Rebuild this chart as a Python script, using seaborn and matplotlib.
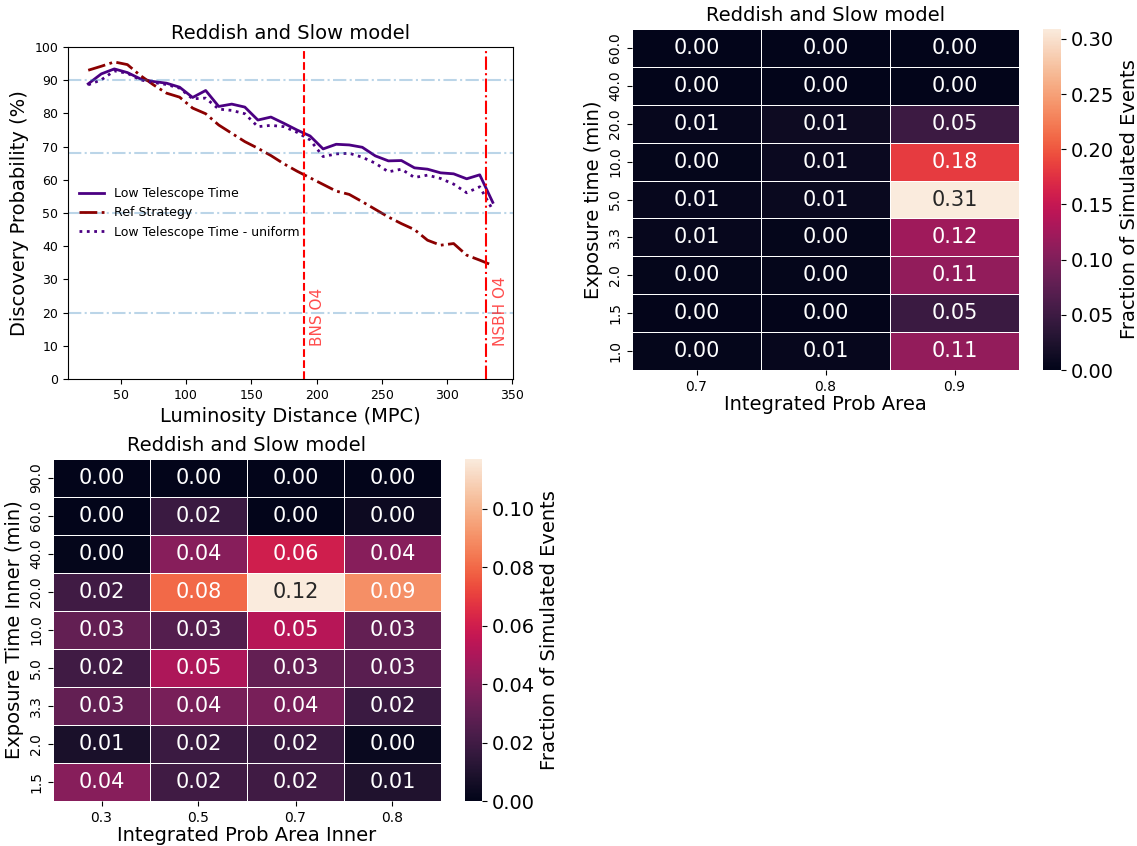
import numpy as np
import pandas as pd
import matplotlib
matplotlib.use("Agg")
import matplotlib.pyplot as plt
import seaborn as sns

# ---- discovery probability vs luminosity distance ----
distance = [25, 35, 45, 55, 65, 75, 85, 95, 105, 115, 125, 135, 145, 155, 165, 175,
            185, 195, 205, 215, 225, 235, 245, 255, 265, 275, 285, 295, 305, 315, 325, 335]
low_tel_time = [88.9, 91.9, 93.4, 92.3, 90.4, 89.6, 89.1, 87.9, 84.8, 86.9, 82.1, 82.8,
                81.9, 78.0, 78.9, 77.0, 75.0, 73.2, 69.3, 70.7, 70.5, 69.8, 67.2, 65.7,
                65.8, 63.6, 63.2, 62.1, 61.8, 60.3, 61.5, 53.2]
ref_strategy = [93.0, 94.2, 95.5, 94.7, 91.4, 88.6, 86.1, 84.9, 81.6, 79.9, 76.5, 74.0,
                71.5, 69.5, 67.3, 64.8, 62.6, 60.6, 58.6, 56.6, 55.6, 53.4, 51.1, 48.8,
                46.8, 45.0, 41.8, 40.3, 40.8, 37.3, 35.8, 34.2]
low_tel_uniform = [88.6, 90.1, 92.8, 92.1, 90.1, 89.3, 88.7, 87.6, 84.4, 84.6, 81.3, 80.9,
                   79.9, 76.0, 76.4, 76.0, 74.3, 72.0, 67.0, 67.8, 68.0, 66.8, 65.0, 62.4,
                   63.2, 60.7, 61.4, 60.4, 58.7, 56.1, 57.9, 50.9]
ref_levels = [90, 68, 50, 20]
horizon_names = ["BNS O4", "NSBH O4"]
horizon_dist = [190, 330]
horizon_styles = ["--", "-."]

# ---- heatmap: exposure time vs integrated probability area ----
prob_area = ["0.7", "0.8", "0.9"]
exp_time = ["60.0", "40.0", "20.0", "10.0", "5.0", "3.3", "2.0", "1.5", "1.0"]
frac_main = [
    [0.000, 0.000, 0.000],
    [0.000, 0.000, 0.000],
    [0.006, 0.011, 0.049],
    [0.003, 0.009, 0.183],
    [0.006, 0.008, 0.309],
    [0.006, 0.003, 0.122],
    [0.003, 0.003, 0.113],
    [0.002, 0.002, 0.048],
    [0.003, 0.006, 0.114],
]

# ---- heatmap: inner exposure time vs inner probability area ----
prob_area_inner = ["0.3", "0.5", "0.7", "0.8"]
exp_time_inner = ["90.0", "60.0", "40.0", "20.0", "10.0", "5.0", "3.3", "2.0", "1.5"]
frac_inner = [
    [0.000, 0.000, 0.000, 0.000],
    [0.000, 0.018, 0.000, 0.004],
    [0.001, 0.040, 0.060, 0.040],
    [0.020, 0.080, 0.117, 0.090],
    [0.030, 0.026, 0.053, 0.030],
    [0.020, 0.050, 0.030, 0.027],
    [0.030, 0.036, 0.036, 0.018],
    [0.008, 0.018, 0.018, 0.003],
    [0.040, 0.020, 0.020, 0.010],
]

plt.rcParams["font.family"] = ["DejaVu Sans"]

W, H = 1137, 846
fig = plt.figure(figsize=(W / 100, H / 100), dpi=100)


def px_axes(x0, y0, x1, y1):
    return fig.add_axes([x0 / W, 1 - y1 / H, (x1 - x0) / W, (y1 - y0) / H])


# ---------------- line plot ----------------
ax = px_axes(68, 47, 513, 379)
df = pd.DataFrame({
    "dist": distance * 3,
    "prob": low_tel_time + ref_strategy + low_tel_uniform,
    "strategy": (["Low Telescope Time"] * len(distance)
                 + ["Ref Strategy"] * len(distance)
                 + ["Low Telescope Time - uniform"] * len(distance)),
})
line_colors = {"Low Telescope Time": "indigo",
               "Ref Strategy": "darkred",
               "Low Telescope Time - uniform": "indigo"}
line_styles = {"Low Telescope Time": "-",
               "Ref Strategy": "-.",
               "Low Telescope Time - uniform": ":"}
for name in ["Low Telescope Time", "Ref Strategy", "Low Telescope Time - uniform"]:
    sub = df[df["strategy"] == name]
    sns.lineplot(data=sub, x="dist", y="prob", ax=ax, color=line_colors[name],
                 linestyle=line_styles[name], linewidth=2, label=name)

for lvl in ref_levels:
    ax.axhline(lvl, color="#1f77b4", alpha=0.3, linestyle="-.", linewidth=1.5)
for name, d, ls in zip(horizon_names, horizon_dist, horizon_styles):
    ax.axvline(d, color="red", linestyle=ls, linewidth=1.5)
    ax.text(d + 5, 10, name, rotation=90, color="red", alpha=0.7,
            fontsize=11, ha="left", va="bottom")

ax.set_ylim(0, 100)
ax.set_yticks(np.arange(0, 101, 10))
ax.set_xticks([50, 100, 150, 200, 250, 300, 350])
ax.tick_params(labelsize=9)
ax.set_xlabel("Luminosity Distance (MPC)", fontsize=14)
ax.set_ylabel("Discovery Probability (%)", fontsize=14)
ax.set_title("Reddish and Slow model", fontsize=14)
ax.legend(loc="center left", frameon=False, fontsize=9)


# ---------------- heatmaps ----------------
def draw_heat(ax_box, cbar_box, values, rows, cols, xlabel, ylabel):
    hax = px_axes(*ax_box)
    cax = px_axes(*cbar_box)
    frame = pd.DataFrame(values, index=rows, columns=cols)
    sns.heatmap(frame, ax=hax, cbar_ax=cax, annot=True, fmt=".2f",
                annot_kws={"fontsize": 15}, linewidths=0.5, linecolor="white",
                vmin=0, cbar_kws={"label": "Fraction of Simulated Events"})
    hax.set_title("Reddish and Slow model", fontsize=14)
    hax.set_xlabel(xlabel, fontsize=14, labelpad=1)
    hax.set_ylabel(ylabel, fontsize=14)
    hax.tick_params(labelsize=10)
    plt.setp(hax.get_yticklabels(), rotation=90, va="center")
    plt.setp(hax.get_xticklabels(), rotation=0)
    cax.tick_params(labelsize=14)
    cax.yaxis.label.set_size(14)


draw_heat((632, 29, 1019, 370), (1043, 29, 1061, 370), frac_main, exp_time,
          prob_area, "Integrated Prob Area", "Exposure time (min)")
draw_heat((53, 459, 441, 801), (465, 459, 482, 801), frac_inner, exp_time_inner,
          prob_area_inner, "Integrated Prob Area Inner", "Exposure Time Inner (min)")

fig.savefig("out.png", dpi=100)
